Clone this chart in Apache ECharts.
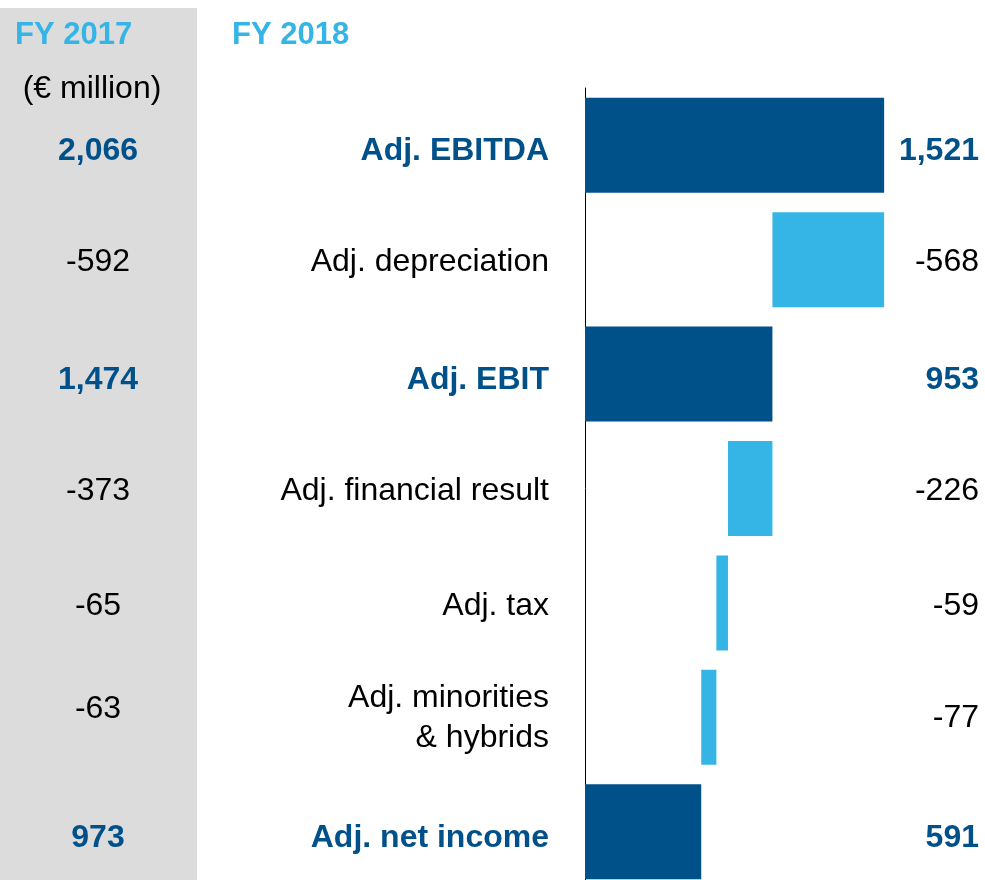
<!DOCTYPE html>
<html>
<head>
<meta charset="utf-8">
<script src="https://cdn.jsdelivr.net/npm/echarts@6/dist/echarts.min.js"></script>
<style>
  html, body { margin: 0; padding: 0; background: #fff; overflow: hidden; }
  #main { width: 985px; height: 900px; }
</style>
</head>
<body>
<div id="main"></div>
<script>
// FY 2018 bridge, € million
const categories = ['Adj. EBITDA', 'Adj. depreciation', 'Adj. EBIT', 'Adj. financial result', 'Adj. tax', 'Adj. minorities\n& hybrids', 'Adj. net income'];
const fy2018 = [1521, -568, 953, -226, -59, -77, 591];
const fy2017 = [2066, -592, 1474, -373, -65, -63, 973];
const isTotal = [true, false, true, false, false, false, true];

const dark = '#00508A';
const light = '#35B5E6';
const font = '"Liberation Sans", Arial, sans-serif';

// waterfall: totals start at 0, steps hang from the running total
let running = 0;
const base = [], size = [];
fy2018.forEach((v, i) => {
  if (isTotal[i]) {
    base.push(0); size.push(v); running = v;
  } else {
    running += v; base.push(running); size.push(-v);
  }
});

const fmt = v => (v < 0 ? '-' : '') + Math.abs(v).toLocaleString('en-US');

const rich = {
  b: { fontFamily: font, fontSize: 32, fontWeight: 'bold', color: dark, padding: [12, 0, 0, 0] },
  n: { fontFamily: font, fontSize: 32, color: '#000', lineHeight: 40, padding: [6, 0, 0, 0] },
  m: { fontFamily: font, fontSize: 32, color: '#000', lineHeight: 40, padding: [2, 0, 0, 0] },
  u: { fontFamily: font, fontSize: 32, color: '#000', lineHeight: 40, padding: [0, 0, 16, 0] }
};
// the minorities row (two-line label) sits a little differently in each column
const pick = (arr, oddStyle) => (value, idx) => {
  const s = isTotal[idx] ? 'b' : (idx === 5 ? oddStyle : 'n');
  return String(arr[idx]).split('\n').map(t => '{' + s + '|' + t + '}').join('\n');
};

var myChart = echarts.init(document.getElementById('main'));
option = {
  animation: false,
  graphic: [
    { type: 'rect', z: -10, shape: { x: 0, y: 8, width: 197, height: 900 }, style: { fill: '#DCDCDC' } },
    { type: 'text', x: 15, y: 35, style: { text: 'FY 2017', font: 'bold 31px ' + font, fill: light, verticalAlign: 'middle' } },
    { type: 'text', x: 232, y: 35, style: { text: 'FY 2018', font: 'bold 31px ' + font, fill: light, verticalAlign: 'middle' } },
    { type: 'text', x: 92, y: 89, style: { text: '(€ million)', font: '32px ' + font, fill: '#000', align: 'center', verticalAlign: 'middle' } }
  ],
  grid: { left: 585, top: 88, width: 354, height: 801 },
  xAxis: { type: 'value', min: 0, max: 1800, show: false },
  yAxis: [
    {
      type: 'category', data: categories, inverse: true, position: 'left',
      axisLine: { show: true, lineStyle: { color: '#000', width: 1 } },
      axisTick: { show: false },
      axisLabel: { margin: 36, formatter: pick(categories, 'm'), rich: rich }
    },
    {
      type: 'category', data: categories, inverse: true, position: 'left', offset: 487,
      axisLine: { show: false }, axisTick: { show: false },
      axisLabel: { margin: 0, align: 'center', formatter: pick(fy2017.map(fmt), 'u'), rich: rich }
    },
    {
      type: 'category', data: categories, inverse: true, position: 'right',
      axisLine: { show: false }, axisTick: { show: false },
      axisLabel: { margin: 40, align: 'right', formatter: pick(fy2018.map(fmt), 'm'), rich: rich }
    }
  ],
  series: [
    {
      type: 'bar', stack: 'w', barWidth: 95, silent: true,
      itemStyle: { color: 'transparent' },
      data: base
    },
    {
      type: 'bar', stack: 'w', barWidth: 95,
      data: size.map((v, i) => ({ value: v, itemStyle: { color: isTotal[i] ? dark : light } }))
    }
  ]
};
myChart.setOption(option);
</script>
</body>
</html>
